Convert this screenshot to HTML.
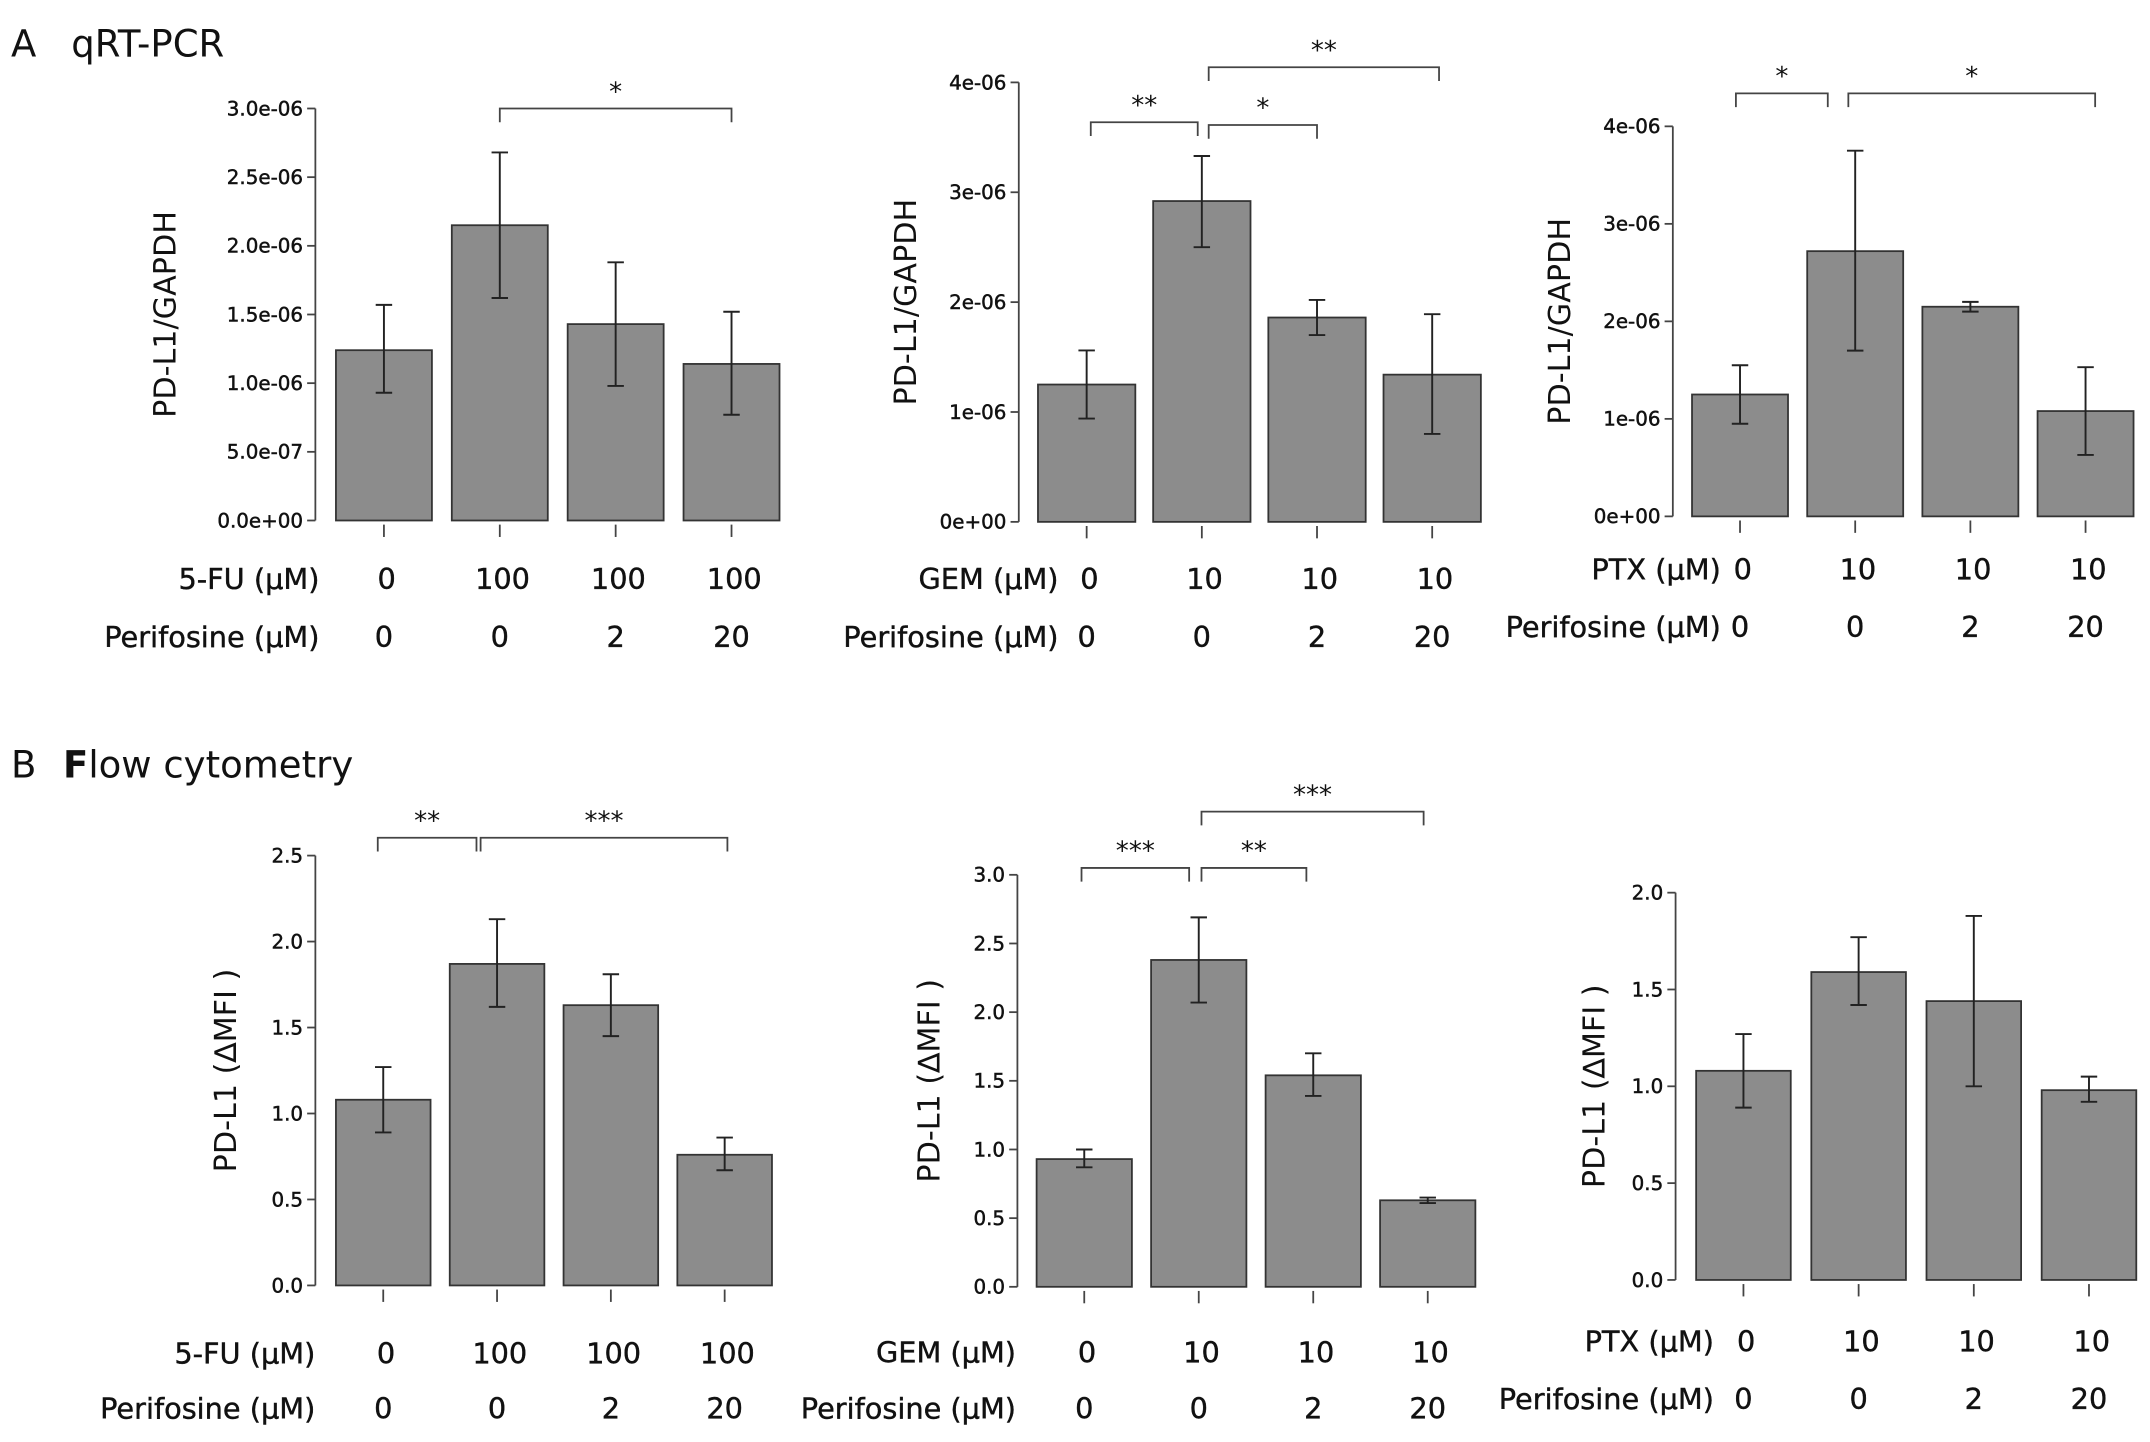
<!DOCTYPE html>
<html><head><meta charset="utf-8"><style>
html,body{margin:0;padding:0;background:#fff;}
svg{display:block;}
text{font-family:"DejaVu Sans","Liberation Sans",sans-serif;fill:#111;}
</style></head><body>
<svg id="fig" width="2150" height="1442" viewBox="0 0 1568 1050" preserveAspectRatio="none" xmlns="http://www.w3.org/2000/svg">
<text x="8" y="41" font-size="27">A</text>
<text x="52" y="41" font-size="27">qRT-PCR</text>
<text x="8" y="566" font-size="27">B</text>
<text x="46" y="566" font-size="27"><tspan font-weight="bold">F</tspan>low cytometry</text>
</svg>
<script>
// ---- data ----
const a1Values=[1.24,2.15,1.43,1.14];
const a1Lo=[0.93,1.62,0.98,0.77];
const a1Hi=[1.57,2.68,1.88,1.52];
const a1Ticks=["0.0e+00","5.0e-07","1.0e-06","1.5e-06","2.0e-06","2.5e-06","3.0e-06"];
const a2Values=[1.25,2.92,1.86,1.34];
const a2Lo=[0.94,2.50,1.70,0.80];
const a2Hi=[1.56,3.33,2.02,1.89];
const a2Ticks=["0e+00","1e-06","2e-06","3e-06","4e-06"];
const a3Values=[1.25,2.72,2.15,1.08];
const a3Lo=[0.95,1.70,2.10,0.63];
const a3Hi=[1.55,3.75,2.20,1.53];
const a3Ticks=["0e+00","1e-06","2e-06","3e-06","4e-06"];
const b1Values=[1.08,1.87,1.63,0.76];
const b1Lo=[0.89,1.62,1.45,0.67];
const b1Hi=[1.27,2.13,1.81,0.86];
const b1Ticks=["0.0","0.5","1.0","1.5","2.0","2.5"];
const b2Values=[0.93,2.38,1.54,0.63];
const b2Lo=[0.87,2.07,1.39,0.61];
const b2Hi=[1.00,2.69,1.70,0.65];
const b2Ticks=["0.0","0.5","1.0","1.5","2.0","2.5","3.0"];
const b3Values=[1.08,1.59,1.44,0.98];
const b3Lo=[0.89,1.42,1.00,0.92];
const b3Hi=[1.27,1.77,1.88,1.05];
const b3Ticks=["0.0","0.5","1.0","1.5","2.0"];
const fuRow=["0","100","100","100"];
const gemRow=["0","10","10","10"];
const perRow=["0","0","2","20"];

const NS="http://www.w3.org/2000/svg";
const svg=document.getElementById('fig');
function mk(tag,attrs,parent){const e=document.createElementNS(NS,tag);for(const k in attrs)e.setAttribute(k,attrs[k]);(parent||svg).appendChild(e);return e;}

function panel(p){
  const g=mk('g',{});
  
  
  const n=p.ticks.length-1;
  const y=v=>p.y0-(v/p.step)*(p.y0-p.yTop)/n;
  const ax=mk('line',{x1:p.ax,x2:p.ax,y1:p.yTop,y2:p.y0,stroke:'#444','stroke-width':1.3},g);
  
  
  p.ticks.forEach((t,i)=>{
    const yy=y(i*p.step);
    mk('line',{x1:p.ax-6,x2:p.ax,y1:yy,y2:yy,stroke:'#444','stroke-width':1.3},g);
    const tx=mk('text',{x:p.ax-9,y:yy+5,'font-size':14.5,'text-anchor':'end','stroke':'#111','stroke-width':0.35},g);
    tx.textContent=t;
    
    
  });
  const yt=mk('text',{x:0,y:0,'font-size':22,'text-anchor':'middle',transform:`translate(${p.titleX},${(p.yTop+p.y0)/2}) rotate(-90)`},g);
  yt.textContent=p.title;
  
  
  const bw=p.bw, gap=p.gap;
  const cx=i=>p.bx+i*(bw+gap)+bw/2;
  p.values.forEach((v,i)=>{
    const r=mk('rect',{x:cx(i)-bw/2,y:y(v),width:bw,height:p.y0-y(v),fill:'#8c8c8c',stroke:'#333','stroke-width':1.3},g);
    
    
    mk('line',{x1:cx(i),x2:cx(i),y1:p.y0+3,y2:p.y0+12,stroke:'#444','stroke-width':1.3},g);
    const e=mk('path',{d:`M${cx(i)},${y(p.lo[i])}V${y(p.hi[i])}M${cx(i)-6},${y(p.lo[i])}h12M${cx(i)-6},${y(p.hi[i])}h12`,stroke:'#222','stroke-width':1.4,fill:'none'},g);
    
    
  });
  (p.sig||[]).forEach(s=>{
    const x1=cx(s[0])+(s[3]||0), x2=cx(s[1])-(s[4]||0), yy=s[2];
    const b=mk('path',{d:`M${x1},${yy+10}V${yy}H${x2}V${yy+10}`,stroke:'#444','stroke-width':1.3,fill:'none'},g);
    
    
    const st=mk('text',{x:(x1+x2)/2,y:yy-6,'font-size':19,'text-anchor':'middle'},g);
    st.textContent=s[5];
    
    
  });
  const rows=[[p.drug,p.drugRow,p.row1],['Perifosine (μM)',perRow,p.row2]];
  rows.forEach((r,k)=>{
    const l=mk('text',{x:p.labX,y:r[2],'font-size':21,'text-anchor':'end','stroke':'#111','stroke-width':0.3},g);
    l.textContent=r[0];
    
    
    r[1].forEach((t,i)=>{
      const tx=mk('text',{x:cx(i)+(k?0:2),y:r[2],'font-size':21,'text-anchor':'middle','stroke':'#111','stroke-width':0.3},g);
      tx.textContent=t;
      
      
    });
  });
}
panel({name:'chart-a-5fu',values:a1Values,lo:a1Lo,hi:a1Hi,ticks:a1Ticks,step:0.5,ax:230,yTop:79,y0:379,bx:245,bw:70,gap:14.5,titleX:128,title:'PD-L1/GAPDH',drug:'5-FU (μM)',drugRow:fuRow,labX:233,row1:429,row2:471,sig:[[1,3,79,0,0,'*']]});
panel({name:'chart-a-gem',values:a2Values,lo:a2Lo,hi:a2Hi,ticks:a2Ticks,step:1,ax:743,yTop:60,y0:380,bx:757,bw:71,gap:13,titleX:668,title:'PD-L1/GAPDH',drug:'GEM (μM)',drugRow:gemRow,labX:772,row1:429,row2:471,sig:[[0,1,89,3,3,'**'],[1,2,91,5,0,'*'],[1,3,49,5,-5,'**']]});
panel({name:'chart-a-ptx',values:a3Values,lo:a3Lo,hi:a3Hi,ticks:a3Ticks,step:1,ax:1220,yTop:92,y0:376,bx:1234,bw:70,gap:14,titleX:1145,title:'PD-L1/GAPDH',drug:'PTX (μM)',drugRow:gemRow,labX:1255,row1:422,row2:464,sig:[[0,1,68,-3,20,'*'],[1,3,68,-5,-7,'*']]});
panel({name:'chart-b-5fu',values:b1Values,lo:b1Lo,hi:b1Hi,ticks:b1Ticks,step:0.5,ax:230,yTop:623,y0:936,bx:245,bw:69,gap:14,titleX:172,title:'PD-L1 (∆MFI )',drug:'5-FU (μM)',drugRow:fuRow,labX:230,row1:993,row2:1033,sig:[[0,1,610,-4,15,'**'],[1,3,610,-12,-2,'***']]});
panel({name:'chart-b-gem',values:b2Values,lo:b2Lo,hi:b2Hi,ticks:b2Ticks,step:0.5,ax:742,yTop:637,y0:937,bx:756,bw:69.5,gap:14,titleX:685,title:'PD-L1 (∆MFI )',drug:'GEM (μM)',drugRow:gemRow,labX:741,row1:992,row2:1033,sig:[[0,1,632,-2,7,'***'],[1,2,632,2,5,'**'],[1,3,591,2,3,'***']]});
panel({name:'chart-b-ptx',values:b3Values,lo:b3Lo,hi:b3Hi,ticks:b3Ticks,step:0.5,ax:1222,yTop:650,y0:932,bx:1237,bw:69,gap:15,titleX:1170,title:'PD-L1 (∆MFI )',drug:'PTX (μM)',drugRow:gemRow,labX:1250,row1:984,row2:1026});
</script>
</body></html>
